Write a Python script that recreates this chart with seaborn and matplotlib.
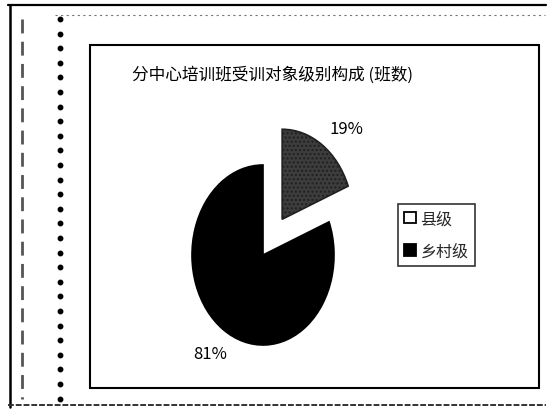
import matplotlib
matplotlib.use("Agg")
import matplotlib.pyplot as plt
import seaborn as sns
from matplotlib.patches import Rectangle, Patch
from matplotlib.lines import Line2D

# ---- data ----
categories = ["县级", "乡村级"]
shares = [19, 81]
pct_labels = ["19%", "81%"]
title_text = "分中心培训班受训对象级别构成 (班数)"

sns.set_theme(style="white")
plt.rcParams["font.family"] = ["Noto Sans CJK SC", "DejaVu Sans"]

W, H = 550, 414
fig = plt.figure(figsize=(W / 100, H / 100), dpi=100)
fig.patch.set_facecolor("white")

def fx(px):
    return px / W

def fy(py):
    return 1 - py / H

# --- scanned-page decorations ---
fig.add_artist(Line2D([fx(8), fx(546)], [fy(6), fy(6)], color="black", lw=1.6))
fig.add_artist(Line2D([fx(10), fx(10)], [fy(6), fy(408)], color="black", lw=1.8))
fig.add_artist(Line2D([fx(8), fx(546)], [fy(406), fy(406)], color="#333333", lw=1.4, ls=(0, (3, 1))))
fig.add_artist(Line2D([fx(22), fx(22)], [fy(20), fy(400)], color="#555555", lw=2.0, ls=(0, (5, 3))))
fig.add_artist(Line2D([fx(60)] * 27, [fy(20 + 14.6 * i) for i in range(27)],
                      color="black", lw=0, marker="o", markersize=3.2))
fig.add_artist(Line2D([fx(55), fx(545)], [fy(16), fy(16)], color="#777777", lw=0.8, ls=(0, (2, 3))))

# --- chart frame ---
fig.add_artist(Rectangle((fx(90), fy(389)), fx(539) - fx(90), fy(46) - fy(389),
                         transform=fig.transFigure, fill=False, edgecolor="black", lw=1.5))

# --- title ---
fig.text(fx(273), fy(75), title_text, ha="center", va="center", fontsize=12, color="black")

# --- pie ---
cx, cy, rx, ry = 263, 256, 71, 90
ax = fig.add_axes([fx(cx - rx), fy(cy + ry), 2 * rx / W, 2 * ry / H])
colors = ["#3d3d3d", "black"]
wedges, texts = ax.pie(
    shares,
    labels=pct_labels,
    colors=colors,
    startangle=90,
    counterclock=False,
    explode=[0.48, 0],
    labeldistance=1.32,
    wedgeprops=dict(edgecolor="black", linewidth=1.2),
    textprops=dict(fontsize=12, color="black"),
)
wedges[0].set_hatch("....")
wedges[0].set_edgecolor("#202020")
for w in wedges:
    w.set_clip_on(False)
for t in texts:
    t.set_ha("center")
    t.set_va("center")
    t.set_clip_on(False)
texts[0].set_position((1.18, 1.40))
ax.set_xlim(-1, 1)
ax.set_ylim(-1, 1)
ax.set_aspect("auto")
ax.axis("off")

# --- legend ---
handles = [
    Patch(facecolor="white", edgecolor="black", linewidth=1.3),
    Patch(facecolor="black", edgecolor="black", linewidth=1.3),
]
leg = fig.legend(
    handles, categories,
    loc="upper left",
    bbox_to_anchor=(fx(398), fy(205)),
    frameon=True, fancybox=False,
    fontsize=11.5, handlelength=0.7, handleheight=0.7, handletextpad=0.3,
    labelspacing=0.95, borderpad=0.4, borderaxespad=0,
)
leg.get_frame().set_edgecolor("black")
leg.get_frame().set_linewidth(1.2)

fig.savefig("out.png", dpi=100, facecolor="white")
